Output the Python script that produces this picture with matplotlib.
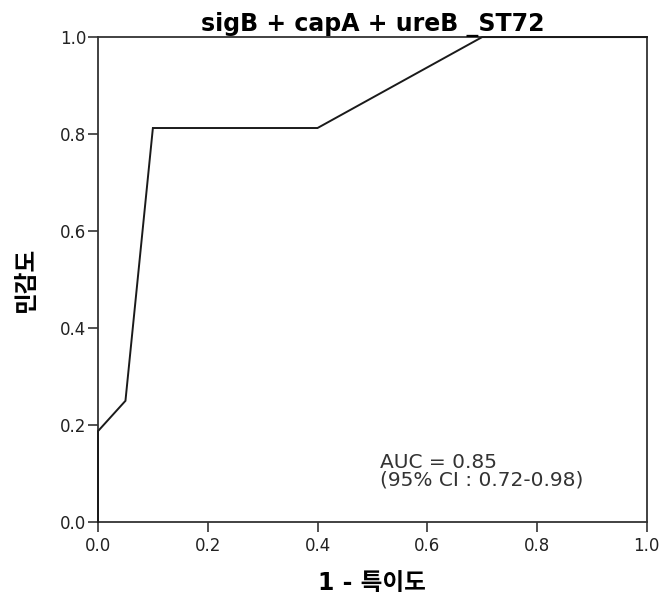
import matplotlib.pyplot as plt
import numpy as np

plt.rcParams['font.family'] = ['DejaVu Sans', 'Noto Sans CJK KR']

# ROC curve points (1 - specificity, sensitivity)
fpr = [0.0, 0.0, 0.05, 0.1, 0.4, 0.7, 1.0]
tpr = [0.0, 0.1875, 0.25, 0.8125, 0.8125, 1.0, 1.0]
ticks = [0.0, 0.2, 0.4, 0.6, 0.8, 1.0]
title = 'sigB + capA + ureB _ST72'
auc_text = 'AUC = 0.85\n(95% CI : 0.72-0.98)'

fig = plt.figure(figsize=(6.6, 5.98), dpi=100)
ax = fig.add_axes([0.1485, 0.127, 0.8315, 0.811])

ax.plot(fpr, tpr, color='#1a1a1a', lw=1.4, solid_joinstyle='miter', clip_on=False, zorder=3)

ax.set_xlim(0, 1)
ax.set_ylim(0, 1)
ax.set_xticks(ticks)
ax.set_yticks(ticks)
ax.set_xticklabels([f'{t:.1f}' for t in ticks], fontsize=12, color='#222222')
ax.set_yticklabels([f'{t:.1f}' for t in ticks], fontsize=12, color='#222222')
ax.tick_params(axis='both', direction='out', length=7.5, width=1.2, color='#333333')
ax.tick_params(axis='x', pad=3)
ax.tick_params(axis='y', pad=1)
for s in ax.spines.values():
    s.set_linewidth(1.3)
    s.set_color('#333333')

ax.set_title(title, fontsize=17, fontweight='bold', pad=4)
ax.set_xlabel('1 - 특이도', fontsize=17, fontweight='bold', labelpad=12)
ax.set_ylabel('민감도', fontsize=17, fontweight='bold', labelpad=16)

ax.text(0.514, 0.105, auc_text, fontsize=14.5, color='#333333', linespacing=0.95,
        va='center', ha='left')

fig.savefig('out.png', dpi=100)
